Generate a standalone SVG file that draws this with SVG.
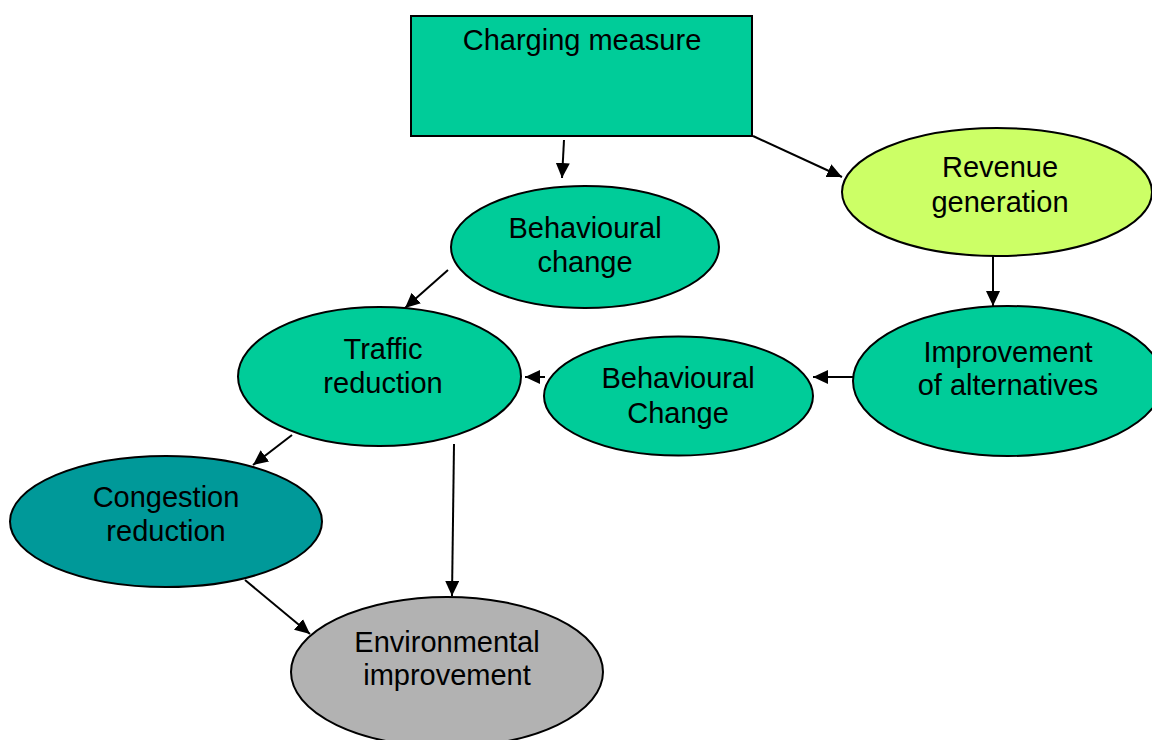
<svg xmlns="http://www.w3.org/2000/svg" width="1152" height="740" viewBox="0 0 1152 740">
  <style>
    .node { stroke: #000; stroke-width: 2; }
    .teal { fill: #00CC99; }
    .lime { fill: #CCFF66; }
    .dark { fill: #009999; }
    .grey { fill: #B2B2B2; }
    .lbl { font-family: "Liberation Sans", Arial, sans-serif; font-size: 29px; fill: #000; text-anchor: middle; }
    .conn line { stroke: #000; stroke-width: 2; fill: none; marker-end: url(#arrow); }
  </style>
  <defs>
    <marker id="arrow" markerUnits="userSpaceOnUse" markerWidth="16" markerHeight="14" refX="15" refY="7" orient="auto">
      <path d="M0,0 L15,7 L0,14 z" fill="#000"/>
    </marker>
  </defs>
  <rect width="1152" height="740" fill="#fff"/>

  <g id="charging-measure">
    <rect class="node teal" x="411" y="16" width="341" height="120"/>
    <text class="lbl" x="582" y="50">Charging measure</text>
  </g>
  <g id="behavioural-change-1">
    <ellipse class="node teal" cx="585" cy="247" rx="134" ry="61"/>
    <text class="lbl" x="585" y="238">Behavioural</text>
    <text class="lbl" x="585" y="272">change</text>
  </g>
  <g id="revenue-generation">
    <ellipse class="node lime" cx="997" cy="192" rx="155" ry="64"/>
    <text class="lbl" x="1000" y="177">Revenue</text>
    <text class="lbl" x="1000" y="212">generation</text>
  </g>
  <g id="improvement-of-alternatives">
    <ellipse class="node teal" cx="1008" cy="381" rx="155" ry="75"/>
    <text class="lbl" x="1008" y="362">Improvement</text>
    <text class="lbl" x="1008" y="395">of alternatives</text>
  </g>
  <g id="behavioural-change-2">
    <ellipse class="node teal" cx="678.5" cy="396" rx="134.5" ry="59.5"/>
    <text class="lbl" x="678" y="388">Behavioural</text>
    <text class="lbl" x="678" y="423">Change</text>
  </g>
  <g id="traffic-reduction">
    <ellipse class="node teal" cx="379.5" cy="376.5" rx="141.5" ry="69.5"/>
    <text class="lbl" x="383" y="359">Traffic</text>
    <text class="lbl" x="383" y="393">reduction</text>
  </g>
  <g id="congestion-reduction">
    <ellipse class="node dark" cx="166" cy="521.5" rx="156" ry="65.5"/>
    <text class="lbl" x="166" y="507">Congestion</text>
    <text class="lbl" x="166" y="541">reduction</text>
  </g>
  <g id="environmental-improvement">
    <ellipse class="node grey" cx="447" cy="672" rx="156" ry="75"/>
    <text class="lbl" x="447" y="652">Environmental</text>
    <text class="lbl" x="447" y="685">improvement</text>
  </g>

  <g id="connectors" class="conn">
    <line x1="564" y1="140" x2="562" y2="178"/>
    <line x1="753" y1="136" x2="842" y2="177"/>
    <line x1="993" y1="256" x2="993" y2="306"/>
    <line x1="853" y1="377" x2="813" y2="377"/>
    <line x1="545" y1="377" x2="525" y2="377"/>
    <line x1="448" y1="270" x2="405" y2="308"/>
    <line x1="292" y1="435" x2="253" y2="465"/>
    <line x1="454" y1="444" x2="452" y2="596"/>
    <line x1="245" y1="580" x2="310" y2="634"/>
  </g>
</svg>
